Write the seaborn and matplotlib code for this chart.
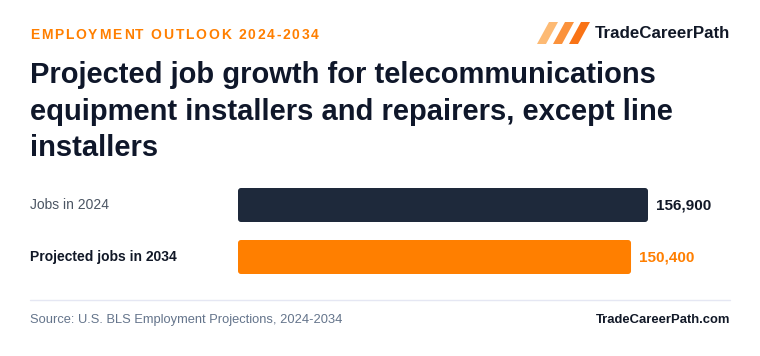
import numpy as np
import pandas as pd
import matplotlib
matplotlib.use("Agg")
import matplotlib.pyplot as plt
import matplotlib.transforms as mtransforms
from matplotlib.patches import FancyBboxPatch, Polygon
import seaborn as sns

# Data
categories = ["Jobs in 2024", "Projected jobs in 2034"]
jobs = [156900, 150400]
value_labels = ["156,900", "150,400"]
bar_colors = ["#1e293b", "#ff7f00"]
label_colors = ["#4b5563", "#111827"]
label_weights = ["normal", "bold"]
value_colors = ["#111827", "#ff7f00"]

W, H = 760, 356
DARK = "#111827"

sns.set_theme(style="white")
plt.rcParams["font.family"] = ["Liberation Sans", "DejaVu Sans"]


def fx(px):
    return px / W


def fy(py):
    return 1 - py / H


fig = plt.figure(figsize=(W / 100, H / 100), dpi=100)
fig.patch.set_facecolor("white")

# Bar axes: left edge at 238 px, right at 730 px, top 179, bottom 283
ax = fig.add_axes([fx(238), fy(283), (730 - 238) / W, 104 / H])
df = pd.DataFrame({"cat": categories, "jobs": jobs})
sns.barplot(data=df, x="jobs", y="cat", hue="cat", palette=bar_colors,
            width=34 / 52, legend=False, ax=ax, saturation=1)
xmax = 156900 * 492 / 410
ax.set_xlim(0, xmax)
ax.set_ylim(1.5, -0.5)
ax.axis("off")

# Round the bar corners
x_per_px = xmax / 492
y_per_px = 2 / 104
for p in list(ax.patches):
    x0, y0, w, h = p.get_x(), p.get_y(), p.get_width(), p.get_height()
    rb = FancyBboxPatch((x0, y0), w, h,
                        boxstyle=f"round,pad=0,rounding_size={3 * x_per_px}",
                        mutation_aspect=y_per_px / x_per_px,
                        facecolor=p.get_facecolor(), edgecolor="none")
    p.remove()
    ax.add_patch(rb)

# Category labels and value labels
trans = mtransforms.blended_transform_factory(fig.transFigure, ax.transData)
for i, cat in enumerate(categories):
    fig.text(fx(30), i, cat, transform=trans, ha="left", va="center",
             fontsize=10, color=label_colors[i], fontweight=label_weights[i])
    ax.text(jobs[i] + 8 * x_per_px, i, value_labels[i], ha="left", va="center",
            fontsize=11, fontweight="bold", color=value_colors[i])

# Header with letter spacing
fig.canvas.draw()
renderer = fig.canvas.get_renderer()
header = "EMPLOYMENT OUTLOOK 2024-2034"
xpos = 30
for ch in header:
    t = fig.text(fx(xpos), fy(35), ch, ha="left", va="center", fontsize=10,
                 fontweight="bold", color="#ff7f00")
    bb = t.get_window_extent(renderer)
    adv = bb.width if ch != " " else 3.5
    xpos += adv + 1.8

# Title
title_lines = ["Projected job growth for telecommunications",
               "equipment installers and repairers, except line",
               "installers"]
for k, line in enumerate(title_lines):
    fig.text(fx(30), fy(75 + 36.5 * k), line, ha="left", va="center",
             fontsize=21, fontweight="bold", color="#0f172a")

# Logo: three slanted parallelograms
logo_colors = ["#fdba74", "#fb923c", "#f97316"]
for j, c in enumerate(logo_colors):
    x0 = 537 + j * 16
    pts = [(x0, 44), (x0 + 9, 44), (x0 + 21, 22), (x0 + 12, 22)]
    fig.patches.append(Polygon([(fx(px), fy(py)) for px, py in pts],
                               closed=True, transform=fig.transFigure,
                               facecolor=c, edgecolor="none"))
fig.text(fx(595), fy(33), "TradeCareerPath", ha="left", va="center",
         fontsize=12.2, fontweight="bold", color=DARK)

# Footer
fig.add_artist(plt.Line2D([fx(30), fx(730)], [fy(300), fy(300)],
                          transform=fig.transFigure, color="#e5e7f3", lw=1))
fig.text(fx(30), fy(320), "Source: U.S. BLS Employment Projections, 2024-2034",
         ha="left", va="center", fontsize=9.3, color="#64748b")
fig.text(fx(730), fy(320), "TradeCareerPath.com", ha="right", va="center",
         fontsize=9.4, fontweight="bold", color=DARK)

fig.savefig("out.png", dpi=100, facecolor="white")
